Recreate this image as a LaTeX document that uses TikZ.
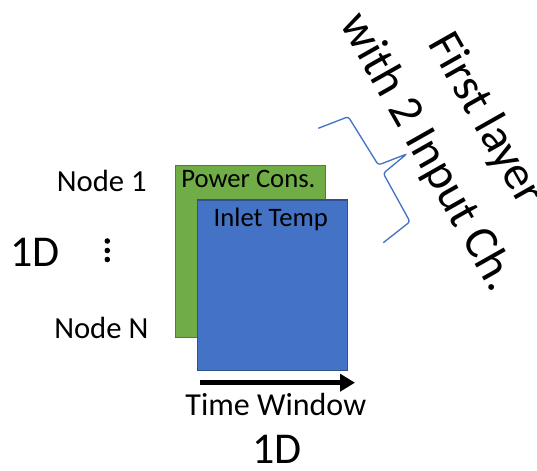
\documentclass[tikz,border=0pt]{standalone}
\usepackage{fontspec}
\setmainfont{Carlito}
\usetikzlibrary{arrows.meta}
\definecolor{ogreen}{HTML}{70AD47}
\definecolor{ogreenb}{HTML}{507E32}
\definecolor{oblue}{HTML}{4472C4}
\definecolor{oblueb}{HTML}{2F528F}
\tikzset{
  lbl/.style={inner sep=0pt, anchor=base, font=\fontsize{23}{28}\selectfont},
  inlbl/.style={inner sep=0pt, anchor=base, font=\fontsize{20}{24}\selectfont},
  bigdim/.style={inner sep=0pt, anchor=base, font=\fontsize{33}{40}\selectfont},
  greenbox/.style={fill=ogreen, draw=ogreenb, line width=1pt},
  bluebox/.style={fill=oblue, draw=oblueb, line width=1pt},
  timearrow/.style={line width=3.75pt, -{Triangle[length=11.25pt,width=12.75pt]}},
  bracestyle/.style={draw=oblue, line width=1pt, rounded corners=2pt},
  titlestyle/.style={inner sep=0pt, align=center, rotate=-60.5, font=\fontsize{36}{50}\selectfont}
}
\begin{document}
\begin{tikzpicture}[x=0.75pt,y=-0.75pt]
\useasboundingbox (0,0) rectangle (537,471);
% channels
\draw[greenbox] (175.7,165.7) rectangle (325.7,337.3);
\node[inlbl] (pc) at (248.4,187.7) {Power Cons.};
\draw[bluebox] (197.7,200) rectangle (347.7,370.7);
\node[inlbl] (it) at (270.8,226.7) {Inlet Temp};
% left labels
\node[lbl] (n1) at (101.7,191.7) {Node 1};
\node[lbl] (nN) at (101.3,338.7) {Node N};
\node[bigdim] (dimL) at (35,266) {1D};
\fill (107.3,241) circle (2.8) (107.3,250.5) circle (2.8) (107.3,259.5) circle (2.8);
% time axis
\coordinate (ta) at (200,382.7);
\coordinate (tb) at (355,382.7);
\draw[timearrow] (ta) -- (tb);
\node[inlbl, font=\fontsize{24}{29}\selectfont] (tw) at (275.8,415) {Time Window};
\node[bigdim] (dimB) at (277.2,463.3) {1D};
% brace
\draw[bracestyle] (318.3,128.3) -- (348.3,116.7) -- (378.3,165) -- (406.7,154) -- (383.3,173.3) -- (410,221.7) -- (383.3,242.7);
% title
\node[titlestyle] (title) at (456,136) {First layer\\with 2 Input Ch.};
\end{tikzpicture}
\end{document}
